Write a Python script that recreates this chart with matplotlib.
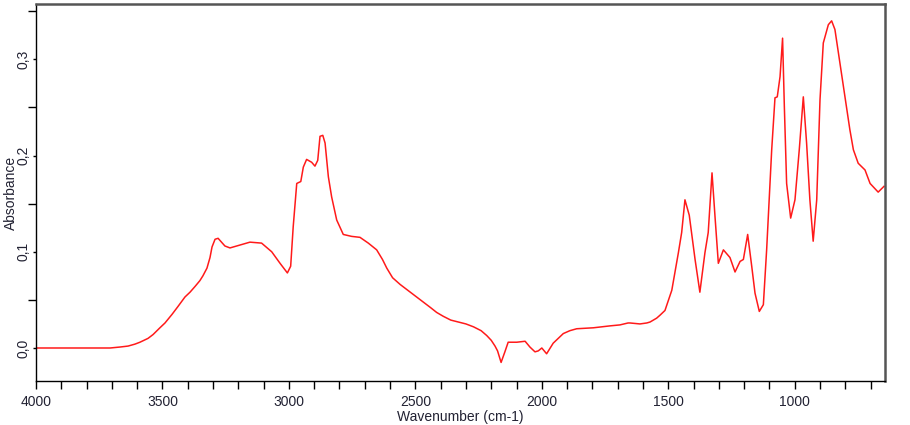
import matplotlib
matplotlib.use("Agg")
import matplotlib.pyplot as plt
from matplotlib.ticker import MultipleLocator, FuncFormatter

# IR spectrum (wavenumber in cm-1, absorbance)
wavenumber = [4000, 3905, 3786, 3747, 3707, 3668, 3636, 3609, 3589, 3557,
              3537, 3510, 3490, 3462, 3439, 3411, 3391, 3371, 3352, 3340,
              3324, 3312, 3304, 3292, 3280, 3253, 3233, 3193, 3154, 3108,
              3068, 3035, 3006, 2993, 2983, 2969, 2953, 2943, 2930, 2910,
              2897, 2886, 2877, 2866, 2857, 2844, 2831, 2811, 2785, 2752,
              2719, 2686, 2653, 2630, 2613, 2590, 2560, 2530, 2500, 2470,
              2440, 2416, 2390, 2360, 2330, 2300, 2270, 2240, 2218, 2200,
              2185, 2175, 2161, 2146, 2133, 2099, 2066, 2047, 2027, 2014,
              2000, 1981, 1955, 1915, 1889, 1862, 1796, 1730, 1691, 1659,
              1651, 1612, 1585, 1572, 1546, 1533, 1513, 1486, 1460, 1447,
              1434, 1417, 1394, 1375, 1355, 1342, 1327, 1315, 1302, 1282,
              1256, 1236, 1216, 1203, 1186, 1170, 1157, 1140, 1124, 1111,
              1091, 1078, 1069, 1058, 1048, 1041, 1032, 1016, 999, 982,
              966, 953, 940, 927, 913, 900, 887, 867, 854, 841,
              821, 801, 782, 768, 749, 722, 702, 670, 647]
absorbance = [0.000, 0.000, 0.000, 0.000, 0.000, 0.001, 0.002, 0.004, 0.006, 0.010,
              0.014, 0.021, 0.026, 0.035, 0.043, 0.053, 0.058, 0.064, 0.070, 0.075,
              0.083, 0.094, 0.105, 0.113, 0.114, 0.106, 0.104, 0.107, 0.110, 0.109,
              0.100, 0.088, 0.078, 0.085, 0.126, 0.171, 0.173, 0.188, 0.196, 0.193,
              0.189, 0.195, 0.220, 0.221, 0.213, 0.178, 0.157, 0.133, 0.118, 0.116,
              0.115, 0.109, 0.102, 0.092, 0.083, 0.073, 0.066, 0.060, 0.054, 0.048,
              0.042, 0.037, 0.033, 0.029, 0.027, 0.025, 0.022, 0.018, 0.013, 0.008,
              0.002, -0.003, -0.015, -0.004, 0.006, 0.006, 0.007, 0.001, -0.004, -0.003,
              0.000, -0.006, 0.005, 0.015, 0.018, 0.020, 0.021, 0.023, 0.024, 0.026,
              0.026, 0.025, 0.026, 0.027, 0.031, 0.034, 0.039, 0.060, 0.099, 0.120,
              0.154, 0.138, 0.092, 0.058, 0.099, 0.120, 0.182, 0.136, 0.088, 0.102,
              0.094, 0.079, 0.090, 0.092, 0.118, 0.085, 0.057, 0.038, 0.045, 0.102,
              0.206, 0.260, 0.261, 0.282, 0.322, 0.251, 0.171, 0.135, 0.154, 0.206,
              0.261, 0.213, 0.154, 0.111, 0.154, 0.258, 0.317, 0.336, 0.340, 0.331,
              0.296, 0.261, 0.227, 0.206, 0.192, 0.185, 0.171, 0.162, 0.168]

plt.rcParams["font.family"] = ["Liberation Sans", "DejaVu Sans"]
text_color = "#222233"

fig = plt.figure(figsize=(9.1, 4.25), dpi=100)
ax = fig.add_axes([36 / 910, 44 / 425, 849 / 910, 377 / 425])

ax.plot(wavenumber, absorbance, color="#ff1a1a", linewidth=1.1)

ax.set_xlim(4000, 643)
ax.set_ylim(-0.0343, 0.3575)

ax.xaxis.set_major_locator(MultipleLocator(500))
ax.xaxis.set_minor_locator(MultipleLocator(100))
ax.yaxis.set_major_locator(MultipleLocator(0.1))
ax.yaxis.set_minor_locator(MultipleLocator(0.05))
ax.yaxis.set_major_formatter(FuncFormatter(lambda v, p: f"{v:.1f}".replace(".", ",")))

ax.tick_params(axis="x", which="both", direction="out", length=6, width=1,
               labelsize=10, labelcolor=text_color, pad=4)
ax.tick_params(axis="y", which="major", direction="out", length=2, width=1,
               labelsize=10, labelcolor=text_color, pad=2, labelrotation=90)
ax.tick_params(axis="y", which="minor", direction="out", length=6, width=1)
for lab in ax.get_yticklabels():
    lab.set_va("center")

ax.set_xlabel("Wavenumber (cm-1)", fontsize=10, color=text_color, labelpad=1)
ax.set_ylabel("Absorbance", fontsize=10, color=text_color, labelpad=-1)

for side in ("top", "right"):
    ax.spines[side].set_color("#555555")
    ax.spines[side].set_linewidth(1.8)
for side in ("left", "bottom"):
    ax.spines[side].set_color("black")
    ax.spines[side].set_linewidth(1.0)

fig.savefig("out.png", dpi=100)
